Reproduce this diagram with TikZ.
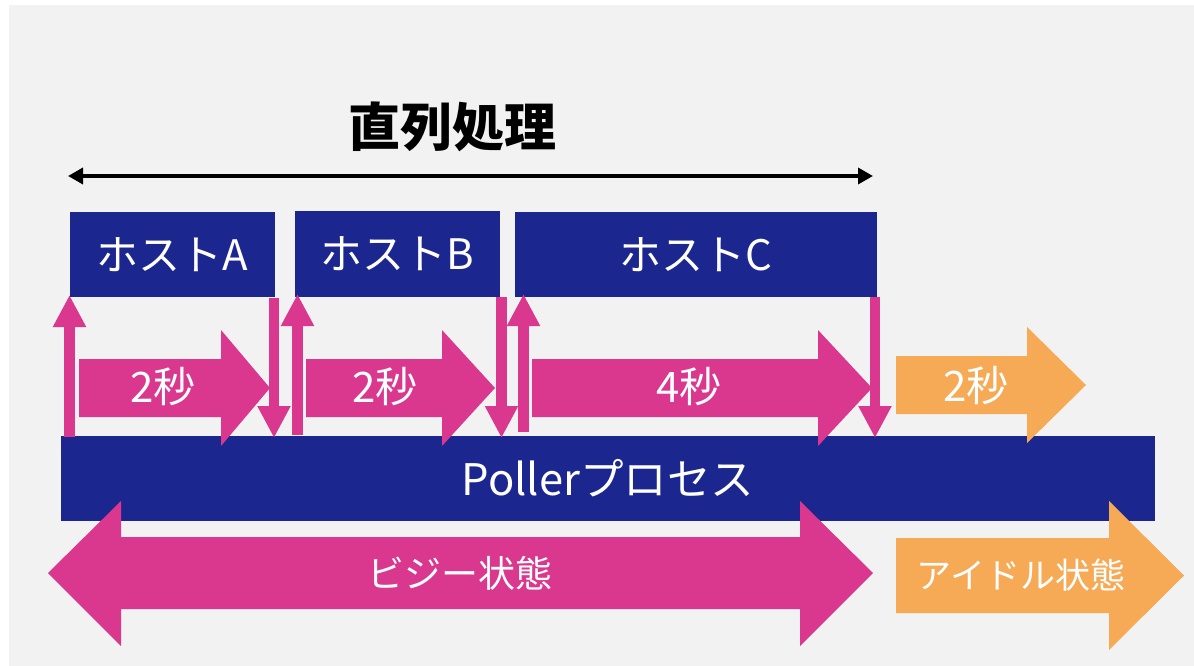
\documentclass[tikz,border=0pt]{standalone}
\usepackage{fontspec}
\newfontfamily\jp{Noto Sans CJK JP}
\usetikzlibrary{arrows.meta}
\definecolor{navy}{RGB}{27,39,143}
\definecolor{pinkc}{RGB}{218,56,142}
\definecolor{orng}{RGB}{247,170,86}
\definecolor{bgc}{RGB}{242,242,242}
\begin{document}
\begin{tikzpicture}[x=1pt,y=-1pt,
  navybox/.style={fill=navy, text=white, inner sep=0pt, font=\jp\fontsize{42}{50}\selectfont},
  wlabel/.style={text=white, inner sep=0pt, font=\jp\fontsize{42}{50}\selectfont},
  slabel/.style={text=white, inner sep=0pt, font=\jp\fontsize{36}{43}\selectfont},
  vert/.style={draw=pinkc, line width=10.5pt, -{Triangle[width=31pt,length=32pt]}},
  span/.style={draw=black, line width=3.5pt, {Triangle[width=16pt,length=15pt]}-{Triangle[width=16pt,length=15pt]}}]
\useasboundingbox (0,0) rectangle (1194,666);
\fill[white] (0,0) rectangle (1194,666);
\fill[bgc] (9,5) rectangle (1194,666);
% title
\node[font=\jp\bfseries\fontsize{52}{60}\selectfont, inner sep=0pt] (title) at (452,127) {直列処理};
\coordinate (sL) at (68,176);
\coordinate (sR) at (873,176);
\draw[span] (sL) -- (sR);
% host boxes
\node[navybox, minimum width=205pt, minimum height=85pt] (hA) at (172.5,254.5) {ホストA};
\node[navybox, minimum width=205pt, minimum height=86pt] (hB) at (397.5,254) {ホストB};
\node[navybox, minimum width=362pt, minimum height=85pt] (hC) at (696,254.5) {ホストC};
% poller bar
\node[navybox, minimum width=1094pt, minimum height=85pt, font=\jp\fontsize{43.5}{50}\selectfont] (poller) at (608,478.5) {Pollerプロセス};
% block arrows (durations)
\fill[pinkc] (79,359) -- (221,359) -- (221,330) -- (270,388) -- (221,446) -- (221,417) -- (79,417) -- cycle;
\fill[pinkc] (306,359) -- (442,359) -- (442,330) -- (495,388) -- (442,446) -- (442,417) -- (306,417) -- cycle;
\fill[pinkc] (532,359) -- (818,359) -- (818,330) -- (872,388) -- (818,446) -- (818,417) -- (532,417) -- cycle;
\fill[orng] (896,356) -- (1027,356) -- (1027,327) -- (1086,385) -- (1027,443) -- (1027,414) -- (896,414) -- cycle;
\node[wlabel] (d1) at (163,387) {2秒};
\node[wlabel] (d2) at (385,387) {2秒};
\node[wlabel] (d3) at (689,387) {4秒};
\node[wlabel] (d4) at (976,386) {2秒};
% vertical request/response arrows
\coordinate (u1s) at (69.5,437);  \coordinate (u1e) at (69.5,295);
\coordinate (w1s) at (274,298);   \coordinate (w1e) at (274,438);
\coordinate (u2s) at (297.5,435); \coordinate (u2e) at (297.5,294);
\coordinate (w2s) at (501.5,297); \coordinate (w2e) at (501.5,438);
\coordinate (u3s) at (523.5,432); \coordinate (u3e) at (523.5,294);
\coordinate (w3s) at (875,297);   \coordinate (w3e) at (875,438);
\draw[vert] (u1s) -- (u1e);
\draw[vert] (w1s) -- (w1e);
\draw[vert] (u2s) -- (u2e);
\draw[vert] (w2s) -- (w2e);
\draw[vert] (u3s) -- (u3e);
\draw[vert] (w3s) -- (w3e);
% busy / idle
\fill[pinkc] (48,573) -- (121,501) -- (121,537) -- (800,537) -- (800,501) -- (873,573) -- (800,646) -- (800,609) -- (121,609) -- (121,646) -- cycle;
\fill[orng] (896,538) -- (1109,538) -- (1109,501) -- (1184,575.5) -- (1109,650) -- (1109,613) -- (896,613) -- cycle;
\node[slabel, font=\jp\fontsize{37}{44}\selectfont] (busy) at (460,573) {ビジー状態};
\node[slabel, font=\jp\fontsize{35}{42}\selectfont] (idle) at (1021,575) {アイドル状態};
\end{tikzpicture}
\end{document}
